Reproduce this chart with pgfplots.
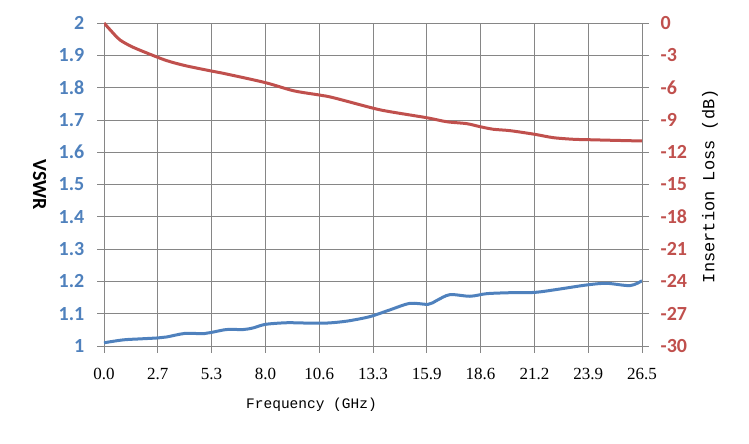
\documentclass[border=0pt]{standalone}
\usepackage{fontspec}
\setmainfont{Liberation Serif}
\newfontfamily\carlito{Carlito}
\newfontfamily\cour{Liberation Mono}
\usepackage{pgfplots}
\pgfplotsset{compat=1.18}
\definecolor{vblue}{RGB}{79,129,189}
\definecolor{vred}{RGB}{192,80,77}
\definecolor{gridgray}{RGB}{134,134,134}

\pgfplotstableread{
f v
0 1.010
0.95 1.019
1.77 1.022
2.65 1.025
3.09 1.028
3.99 1.039
4.89 1.038
5.29 1.042
6.04 1.051
6.86 1.051
7.35 1.056
7.95 1.067
9.00 1.072
9.99 1.071
10.97 1.071
11.96 1.077
13.10 1.091
14.09 1.112
15.07 1.132
15.97 1.129
16.39 1.141
17.04 1.159
18.03 1.154
18.85 1.162
20.00 1.165
21.22 1.166
22.30 1.175
23.78 1.189
24.76 1.194
25.91 1.187
26.5 1.202
}\vswr

\pgfplotstableread{
f il
0 0
0.46 -0.96
0.79 -1.58
1.44 -2.26
2.65 -3.19
3.25 -3.59
4.07 -3.99
5.29 -4.46
6.04 -4.74
7.95 -5.54
9.33 -6.29
10.61 -6.69
11.30 -6.94
13.27 -7.92
14.09 -8.24
15.90 -8.80
16.88 -9.17
17.87 -9.35
18.52 -9.63
19.18 -9.87
20.00 -10.00
21.22 -10.34
22.13 -10.65
23.12 -10.80
23.88 -10.84
24.92 -10.89
26.5 -10.96
}\iloss

\pgfplotsset{
  common/.style={
    scale only axis, width=538bp, height=323bp,
    xmin=0, xmax=26.5,
    axis line style={gridgray, line width=0.75bp},
    tick style={gridgray, line width=0.75bp},
    tick align=outside, major tick length=6.5bp,
    /pgf/number format/assume math mode=true,
  }
}

\begin{document}
\begin{tikzpicture}
\path[use as bounding box] (-104bp,-98bp) rectangle (645bp,346bp);
\begin{axis}[
  common,
  ymin=1, ymax=2,
  xtick={0,2.65,5.3,7.95,10.6,13.25,15.9,18.55,21.2,23.85,26.5},
  xticklabels={0.0,2.7,5.3,8.0,10.6,13.3,15.9,18.6,21.2,23.9,26.5},
  ytick={1,1.1,1.2,1.3,1.4,1.5,1.6,1.7,1.8,1.9,2},
  yticklabels={1,1.1,1.2,1.3,1.4,1.5,1.6,1.7,1.8,1.9,2},
  ytick pos=left, xtick pos=bottom,
  grid=major, major grid style={gridgray, line width=0.75bp},
  yticklabel style={font=\carlito\bfseries\fontsize{20bp}{22bp}\selectfont, text=vblue, anchor=east, inner sep=0pt, xshift=-13bp},
  xticklabel style={font=\fontsize{17bp}{19bp}\selectfont, text=black, anchor=north, inner sep=0pt, yshift=-15.5bp},
  xlabel={Frequency (GHz)},
  xlabel style={font=\cour\fontsize{14.5bp}{16bp}\selectfont, anchor=center, at={(axis description cs:0.3857,-0.1827)}},
  ylabel={VSWR},
  ylabel style={font=\carlito\bfseries\fontsize{20bp}{22bp}\selectfont, rotate=180, anchor=center, at={(axis description cs:-0.1195,0.4985)}},
]
\addplot[vblue, line width=3bp, smooth] table[x=f, y=v] {\vswr};
\end{axis}
\begin{axis}[
  common,
  ymin=-30, ymax=0,
  axis y line*=right, axis x line=none,
  ytick={-30,-27,-24,-21,-18,-15,-12,-9,-6,-3,0},
  yticklabels={-30,-27,-24,-21,-18,-15,-12,-9,-6,-3,0},
  yticklabel style={font=\carlito\bfseries\fontsize{20bp}{22bp}\selectfont, text=vred, anchor=west, inner sep=0pt, xshift=12bp},
  ylabel={Insertion Loss (dB)},
  ylabel style={font=\cour\fontsize{17bp}{19bp}\selectfont, anchor=center, at={(axis description cs:1.1264,0.495)}},
]
\addplot[vred, line width=3bp, smooth] table[x=f, y=il] {\iloss};
\end{axis}
\end{tikzpicture}
\end{document}
